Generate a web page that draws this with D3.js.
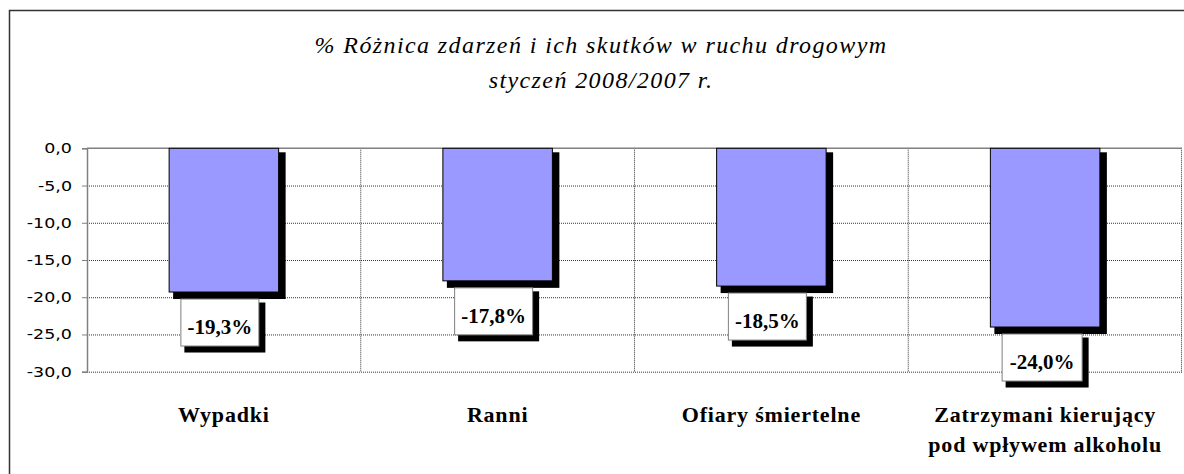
<!DOCTYPE html>
<html>
<head>
<meta charset="utf-8">
<title>% Różnica zdarzeń i ich skutków w ruchu drogowym</title>
<script src="https://cdn.jsdelivr.net/npm/d3@7"></script>
<style>
  body { margin: 0; background: #fff; }
  svg { display: block; }
  .title { font-family: 'Liberation Serif', serif; font-style: italic; font-size: 24px; fill: #000; letter-spacing: 1.4px; }
  .ytick text { font-family: 'DejaVu Sans', sans-serif; font-size: 14px; fill: #000; }
  .cat { font-family: 'Liberation Serif', serif; font-weight: bold; font-size: 22px; fill: #000; letter-spacing: 0.8px; }
  .val { font-family: 'Liberation Serif', serif; font-weight: bold; font-size: 21px; fill: #000; }
  .grid line { stroke: #333; stroke-dasharray: 1 1; }
  .grid path { stroke: none; }
</style>
</head>
<body>
<svg id="chart" width="1184" height="474"></svg>
<script>
// data
const categories = ['Wypadki', 'Ranni', 'Ofiary śmiertelne', 'Zatrzymani kierujący\npod wpływem alkoholu'];
const values = [-19.3, -17.8, -18.5, -24.0];
const yTicks = [0, -5, -10, -15, -20, -25, -30];
const titleLines = ['% Różnica zdarzeń i ich skutków w ruchu drogowym', 'styczeń 2008/2007 r.'];

const plot = { left: 87, right: 1182, top: 148.3, bottom: 371.7 };
const svg = d3.select('#chart');

// outer frame (cut off on right/bottom like the original)
svg.append('rect')
  .attr('x', 9.5).attr('y', 10.5)
  .attr('width', 1190).attr('height', 480)
  .attr('fill', 'none').attr('stroke', '#333').attr('stroke-width', 1.5);

const y = d3.scaleLinear().domain([-30, 0]).range([plot.bottom, plot.top]);
const x = d3.scaleBand().domain(categories).range([plot.left, plot.right]).padding(0);
const barW = x.bandwidth() * 0.4;
const fmt = v => v.toFixed(1).replace('.', ',');

// horizontal grid
svg.append('g')
  .attr('class', 'grid')
  .attr('transform', `translate(${plot.left},0)`)
  .call(d3.axisLeft(y).tickValues(yTicks.filter(t => t !== 0))
    .tickSize(-(plot.right - plot.left)).tickFormat(''));

// vertical grid at category boundaries
svg.append('g').attr('class', 'grid')
  .selectAll('line')
  .data(categories.slice(1).concat(['end']))
  .join('line')
  .attr('x1', (d, i) => i < 3 ? x(d) : plot.right - 0.5)
  .attr('x2', (d, i) => i < 3 ? x(d) : plot.right - 0.5)
  .attr('y1', plot.top).attr('y2', plot.bottom);

// y axis
const yAxis = svg.append('g')
  .attr('class', 'ytick')
  .attr('transform', `translate(${plot.left},0)`)
  .call(d3.axisLeft(y).tickValues(yTicks).tickSize(5).tickPadding(10).tickFormat(fmt));
yAxis.select('.domain').attr('stroke', '#808080').attr('stroke-width', 1.5);
yAxis.selectAll('.tick line').attr('stroke', '#808080');
yAxis.selectAll('.tick text')
  .attr('transform', 'scale(1.25,1)')
  .attr('x', -15 / 1.25);

// zero line
svg.append('line')
  .attr('x1', plot.left).attr('x2', plot.right)
  .attr('y1', y(0)).attr('y2', y(0))
  .attr('stroke', '#808080').attr('stroke-width', 1.5);

const cx = d => x(d) + x.bandwidth() / 2;
const data = categories.map((c, i) => ({ c, v: values[i] }));

const bars = svg.append('g').selectAll('g').data(data).join('g');

// shadow
bars.append('rect')
  .attr('x', d => cx(d.c) - barW / 2 + 4)
  .attr('y', y(0) + 4)
  .attr('width', barW + 3)
  .attr('height', d => y(d.v) - y(0) + 3)
  .attr('fill', '#000');

bars.append('rect')
  .attr('x', d => cx(d.c) - barW / 2)
  .attr('y', y(0))
  .attr('width', barW)
  .attr('height', d => y(d.v) - y(0))
  .attr('fill', '#9999FF')
  .attr('stroke', '#000')
  .attr('stroke-width', 1);

// value label boxes
const boxW = 78, boxH = 47;
const labels = svg.append('g').selectAll('g').data(data).join('g')
  .attr('transform', d => `translate(${cx(d.c) - 43},${y(d.v) + 7})`);

labels.append('rect')
  .attr('x', 3.5).attr('y', 3.5)
  .attr('width', d => (d.v < -20 ? boxW + 2 : boxW) + 3)
  .attr('height', boxH + 3)
  .attr('fill', '#000');
labels.append('rect')
  .attr('width', d => d.v < -20 ? boxW + 2 : boxW)
  .attr('height', boxH)
  .attr('fill', '#fff')
  .attr('stroke', '#808080');
labels.append('text')
  .attr('class', 'val')
  .attr('x', d => (d.v < -20 ? boxW + 2 : boxW) / 2)
  .attr('y', 35)
  .attr('text-anchor', 'middle')
  .text(d => fmt(d.v) + '%');

// category labels
svg.append('g').selectAll('text').data(categories).join('text')
  .attr('class', 'cat')
  .attr('text-anchor', 'middle')
  .attr('x', d => cx(d))
  .attr('y', 421.5)
  .each(function (d) {
    d.split('\n').forEach((line, i) => {
      d3.select(this).append('tspan')
        .attr('x', cx(d))
        .attr('dy', i === 0 ? 0 : 30)
        .text(line);
    });
  });

// title
svg.append('g').selectAll('text').data(titleLines).join('text')
  .attr('class', 'title')
  .attr('text-anchor', 'middle')
  .attr('x', 601)
  .attr('y', (d, i) => 53 + i * 35)
  .text(d => d);
</script>
</body>
</html>
